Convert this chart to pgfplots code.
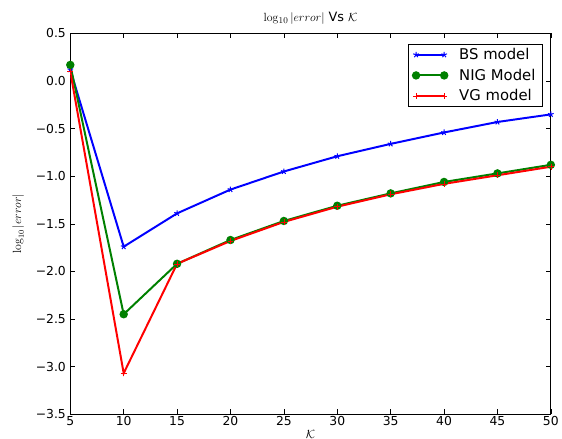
\documentclass[border=0pt]{standalone}
\usepackage[no-math]{fontspec}
\setmainfont{DejaVu Sans}
\usepackage{pgfplots}
\pgfplotsset{compat=1.18}
\begin{document}
\begin{tikzpicture}[font=\fontsize{12}{14}\selectfont]
\begin{axis}[
  name=ax,
  scale only axis,
  width=486pt, height=385pt,
  xmin=5, xmax=50, ymin=-3.5, ymax=0.5,
  xtick={5,10,...,50},
  ytick={-3.5,-3,-2.5,-2,-1.5,-1,-0.5,0,0.5},
  yticklabels={−3.5,−3.0,−2.5,−2.0,−1.5,−1.0,−0.5,0.0,0.5},
  tick align=inside,
  tick style={black, line width=0.6pt},
  major tick length=5pt,
  minor tick num=0,
  axis line style={line width=0.8pt},
  ticklabel style={font=\fontsize{12.5}{14}\selectfont},
  yticklabel style={xshift=-1pt},
  xticklabel style={yshift=1pt},
  /pgf/number format/assume math mode=true,
  title={$\log_{10}|error|$ Vs $\mathcal{K}$},
  title style={font=\fontsize{13}{15}\selectfont, yshift=0pt, text height=18pt},
  xlabel={$\mathcal{K}$},
  ylabel={$\log_{10}|error|$},
  label style={font=\fontsize{12}{14}\selectfont},
  xlabel style={inner ysep=0pt, yshift=-1pt},
  ylabel style={yshift=5pt, text height=18pt},
  legend style={draw=black, line width=0.6pt, font=\fontsize{15}{17}\selectfont,
    inner xsep=5pt, inner ysep=2pt, row sep=4pt, column sep=10pt,
    at={(0.983,0.972)}, anchor=north east},
  legend cell align=left,
  legend image code/.code={\draw[#1] plot coordinates {(0cm,0cm) (1.0cm,0cm)};},
]
\addplot[blue, line width=2pt, mark=star, mark size=3pt, mark options={line width=1pt, fill=blue}]
  coordinates {(5,0.12) (10,-1.74) (15,-1.39) (20,-1.14) (25,-0.95) (30,-0.79) (35,-0.66) (40,-0.54) (45,-0.43) (50,-0.35)};
\addlegendentry{BS model}
\addplot[color={rgb,1:red,0;green,0.5;blue,0}, line width=2pt, mark=*, mark size=3.2pt]
  coordinates {(5,0.17) (10,-2.45) (15,-1.92) (20,-1.67) (25,-1.47) (30,-1.31) (35,-1.18) (40,-1.06) (45,-0.97) (50,-0.88)};
\addlegendentry{NIG Model}
\addplot[red, line width=2pt, mark=+, mark size=3pt, mark options={line width=0.5pt}]
  coordinates {(5,0.1) (10,-3.07) (15,-1.92) (20,-1.68) (25,-1.48) (30,-1.32) (35,-1.19) (40,-1.08) (45,-0.99) (50,-0.90)};
\addlegendentry{VG model}
\end{axis}
\end{tikzpicture}
\end{document}
